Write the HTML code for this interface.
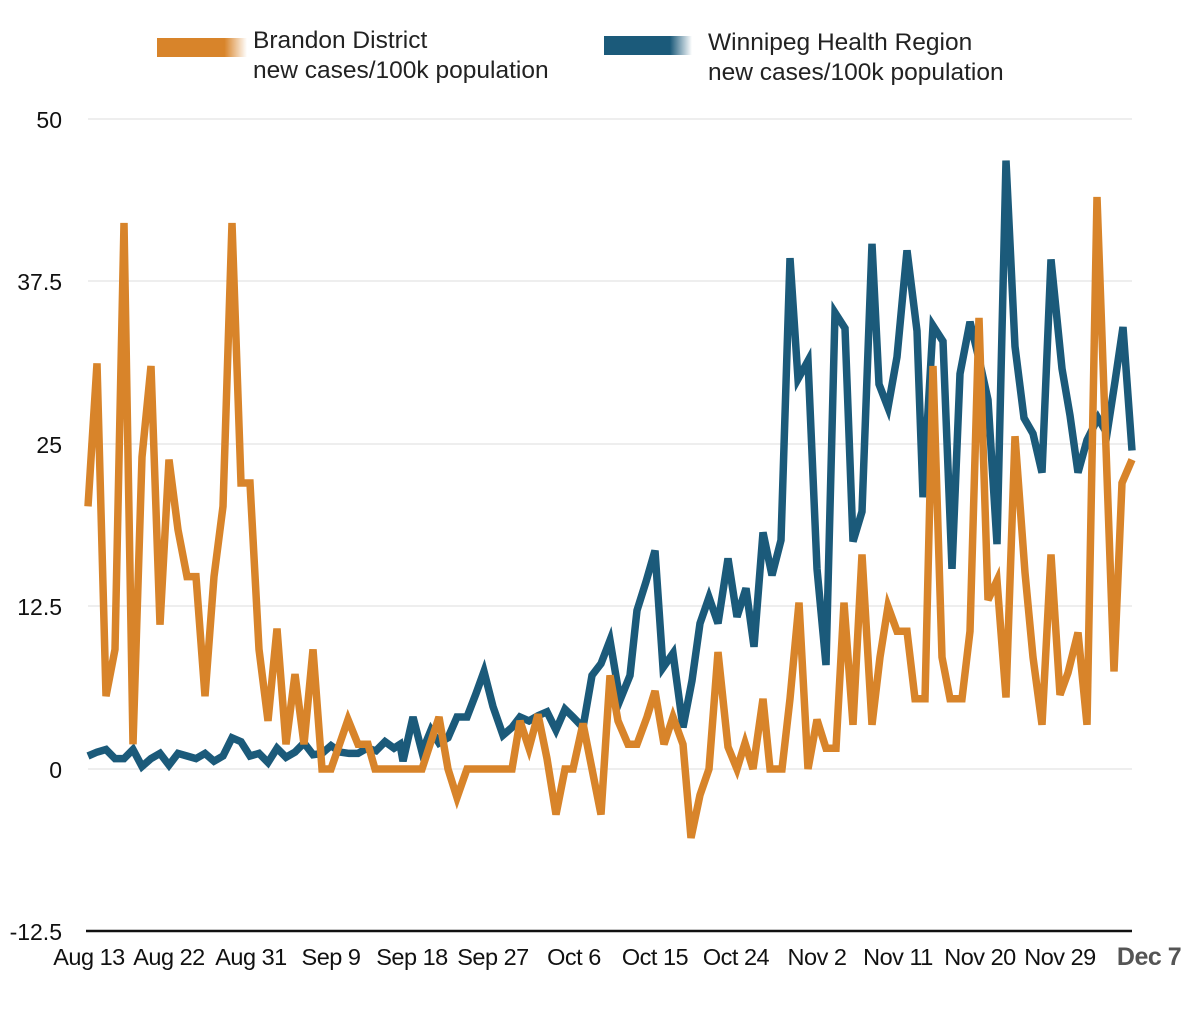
<!DOCTYPE html>
<html><head><meta charset="utf-8"><style>
body{margin:0;background:#fff;width:1200px;height:1015px;overflow:hidden;font-family:"Liberation Sans",sans-serif;}
</style></head><body>
<svg width="1200" height="1015" xmlns="http://www.w3.org/2000/svg" font-family="Liberation Sans, sans-serif">
<defs>
<linearGradient id="go" x1="0" x2="1"><stop offset="0.75" stop-color="#d8842a"/><stop offset="1" stop-color="#d8842a" stop-opacity="0"/></linearGradient>
<linearGradient id="gb" x1="0" x2="1"><stop offset="0.75" stop-color="#1b5a7a"/><stop offset="1" stop-color="#1b5a7a" stop-opacity="0"/></linearGradient>
</defs>
<rect x="157" y="38" width="90" height="19" fill="url(#go)"/>
<rect x="604" y="36" width="88" height="19" fill="url(#gb)"/>
<g font-size="24.5" fill="#222">
<text x="253" y="48">Brandon District</text>
<text x="253" y="78">new cases/100k population</text>
<text x="708" y="50">Winnipeg Health Region</text>
<text x="708" y="80">new cases/100k population</text>
</g>
<g stroke="#dcdcdc" stroke-width="1">
<line x1="88" x2="1132" y1="119" y2="119"/><line x1="88" x2="1132" y1="281" y2="281"/>
<line x1="88" x2="1132" y1="444" y2="444"/><line x1="88" x2="1132" y1="606" y2="606"/>
<line x1="88" x2="1132" y1="769" y2="769"/>
</g>
<line x1="86" x2="1132" y1="931" y2="931" stroke="#111" stroke-width="2.5"/>
<g font-size="23" fill="#111" text-anchor="end">
<text x="62" y="128">50</text><text x="62" y="290">37.5</text><text x="62" y="453">25</text>
<text x="62" y="615">12.5</text><text x="62" y="778">0</text><text x="62" y="940">-12.5</text>
</g>
<g font-size="23.5" fill="#111" text-anchor="middle" letter-spacing="-0.5">
<text x="89" y="965">Aug 13</text><text x="169" y="965">Aug 22</text><text x="251" y="965">Aug 31</text>
<text x="331" y="965">Sep 9</text><text x="412" y="965">Sep 18</text><text x="493" y="965">Sep 27</text>
<text x="574" y="965">Oct 6</text><text x="655" y="965">Oct 15</text><text x="736" y="965">Oct 24</text>
<text x="817" y="965">Nov 2</text><text x="898" y="965">Nov 11</text><text x="980" y="965">Nov 20</text>
<text x="1060" y="965">Nov 29</text>
<text x="1149" y="965" font-weight="bold" fill="#555" font-size="25">Dec 7</text>
</g>
<polyline id="blue" fill="none" stroke="#1b5a7a" stroke-width="7.5" stroke-linejoin="miter"/>
<polyline id="orange" fill="none" stroke="#d8842a" stroke-width="7.5" stroke-linejoin="miter"/>
</svg>
<script>
function Y(v){return 769-13*v;}
var b=[[88,1],[97,1.3],[106,1.5],[115,0.8],[124,0.8],[133,1.5],[142,0.2],[151,0.8],[160,1.2],[169,0.3],[178,1.2],[187,1],[196,0.8],[205,1.2],[214,0.6],[223,1],[232,2.4],[241,2.1],[250,1],[259,1.2],[268,0.5],[277,1.6],[286,0.9],[295,1.3],[304,2],[313,1.1],[322,1.2],[331,1.8],[340,1.3],[349,1.2],[358,1.2],[367,1.6],[376,1.4],[385,2.1],[394,1.6],[400,1.9],[403,0.6],[413,4],[422,1.3],[431,3],[439,2],[448,2.4],[457,4],[467,4],[476,5.8],[484,7.5],[493,4.8],[503,2.6],[512,3.2],[520,4],[529,3.7],[538,4.1],[547,4.4],[556,3],[565,4.6],[573,4],[583,3.2],[592,7.2],[601,8.1],[610,9.9],[620,5.3],[630,7.2],[637,12.2],[646,14.4],[655,16.8],[663,7.8],[673,8.9],[683,3.2],[692,6.8],[700,11.2],[709,13.2],[718,11.2],[728,16.2],[737,11.7],[746,13.9],[754,9.4],[763,18.2],[772,14.9],[781,17.6],[790,39.3],[798,30],[808,31.4],[817,15.4],[826,8],[835,35.1],[845,33.9],[853,17.5],[862,19.8],[872,40.4],[879,29.6],[888,27.8],[897,31.7],[907,39.9],[917,33.7],[923,20.9],[933,34.1],[943,32.9],[952,15.4],[960,30.4],[970,34.4],[980,31.2],[988,28.4],[997,17.3],[1006,46.8],[1015,32.5],[1024,27],[1033,25.8],[1042,22.8],[1051,39.2],[1062,30.8],[1070,27.2],[1078,22.8],[1087,25.3],[1098,27],[1107,25.8],[1115,29.8],[1123,34],[1132,24.5]];
var o=[[88,20.2],[97,31.2],[106,5.6],[115,9.2],[124,42],[133,1.9],[142,24],[151,31],[160,11.1],[169,23.8],[178,18.4],[187,14.8],[196,14.8],[205,5.6],[214,14.8],[223,20.2],[232,42],[241,22],[250,22],[259,9.2],[268,3.7],[277,10.8],[286,1.9],[295,7.3],[304,1.9],[313,9.2],[322,0],[331,0],[348,3.8],[358,1.9],[368,1.9],[375,0],[422,0],[439,4],[448,0],[457,-2.2],[467,0],[512,0],[520,3.7],[529,1.6],[538,4.2],[547,0.8],[556,-3.5],[565,0],[573,0],[583,3.5],[601,-3.5],[610,7.2],[618,3.7],[628,1.9],[637,1.9],[647,4],[655,6],[664,1.9],[673,4],[683,1.9],[691,-5.3],[700,-2],[709,0],[718,9],[728,1.7],[737,0],[745,2],[753,0],[763,5.4],[770,0],[782,0],[790,5.4],[799,12.8],[808,0],[817,3.8],[826,1.6],[836,1.6],[844,12.8],[853,3.4],[862,16.5],[872,3.4],[880,8.6],[888,12.5],[897,10.6],[907,10.6],[915,5.4],[925,5.4],[933,31],[942,8.6],[950,5.4],[962,5.4],[970,10.6],[979,34.7],[988,13],[997,14.5],[1006,5.5],[1015,25.6],[1025,15.1],[1033,8.6],[1042,3.4],[1051,16.5],[1060,5.7],[1068,7.4],[1078,10.5],[1087,3.4],[1097,44],[1114,7.5],[1122,22],[1132,23.8]];
function pts(a){return a.map(function(p){return p[0]+","+Y(p[1]).toFixed(1)}).join(" ");}
document.getElementById("blue").setAttribute("points",pts(b));
document.getElementById("orange").setAttribute("points",pts(o));
</script>
</body></html>
